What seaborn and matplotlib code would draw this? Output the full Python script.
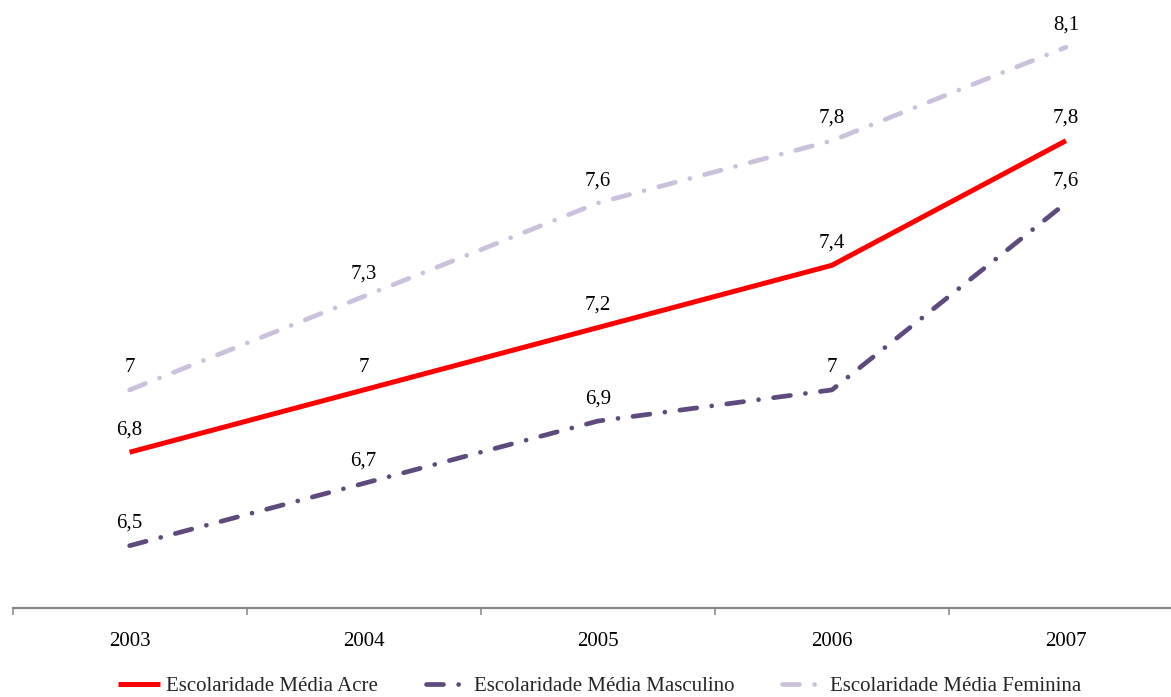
import matplotlib
matplotlib.use("Agg")
import matplotlib.pyplot as plt
import seaborn as sns
import pandas as pd
import numpy as np

sns.set_theme(style="white")
plt.rcParams["font.family"] = ["Liberation Serif", "DejaVu Serif"]

years = ["2003", "2004", "2005", "2006", "2007"]
acre = [6.8, 7.0, 7.2, 7.4, 7.8]
masculino = [6.5, 6.7, 6.9, 7.0, 7.6]
feminina = [7.0, 7.3, 7.6, 7.8, 8.1]

series_names = ["Escolaridade Média Acre",
                "Escolaridade Média Masculino",
                "Escolaridade Média Feminina"]

W, H = 1171, 697
fig = plt.figure(figsize=(W / 100, H / 100), dpi=100)
ax = fig.add_axes([12.6 / W, (H - 608) / H, 1170.4 / W, 607.5 / H])

xpos = np.arange(len(years))
dash_dot = (0, (3.6, 3.2, 0.01, 3.2))
styles = [
    dict(values=acre, color="#FF0000", ls="-", lw=3.6),
    dict(values=masculino, color="#5F4A7E", ls=dash_dot, lw=3.4),
    dict(values=feminina, color="#CCC1DB", ls=dash_dot, lw=3.4),
]

for name, st in zip(series_names, styles):
    df = pd.DataFrame({"x": xpos, "y": st["values"]})
    sns.lineplot(data=df, x="x", y="y", ax=ax, color=st["color"],
                 linewidth=st["lw"], linestyle=st["ls"], label=name,
                 dash_capstyle="round", solid_capstyle="butt")
    for xi, v in zip(xpos, st["values"]):
        txt = f"{v:.1f}".replace(".", ",")
        if txt.endswith(",0"):
            txt = txt[:-2]
        ax.annotate(txt, (xi, v), xytext=(0, 16), textcoords="offset points",
                    ha="center", va="center", fontsize=15, color="black")

ax.set_xlim(-0.5, 4.5)
ax.set_ylim(6.3, 8.25)
ax.set_xticks(xpos)
ax.set_xticklabels(years, fontsize=15, color="black")
ax.set_xticks(np.arange(-0.5, 5.0, 1.0), minor=True)
ax.tick_params(axis="x", which="major", length=0, pad=17)
ax.tick_params(axis="x", which="minor", length=5, width=1.1, color="#868686",
               direction="out", bottom=True)
ax.set_yticks([])
ax.set_xlabel("")
ax.set_ylabel("")
for side in ["top", "left", "right"]:
    ax.spines[side].set_visible(False)
ax.spines["bottom"].set_color("#868686")
ax.spines["bottom"].set_linewidth(1.6)
ax.set_facecolor("white")

ax.get_legend().remove()
handles, labels = ax.get_legend_handles_labels()
fig.legend(handles, labels, loc="center", bbox_to_anchor=(0.512, (H - 686) / H),
           ncol=3, frameon=False, fontsize=15, handlelength=2.0,
           handletextpad=0.3, columnspacing=2.3, borderaxespad=0, borderpad=0)

fig.savefig("out.png", dpi=100, facecolor="white")
